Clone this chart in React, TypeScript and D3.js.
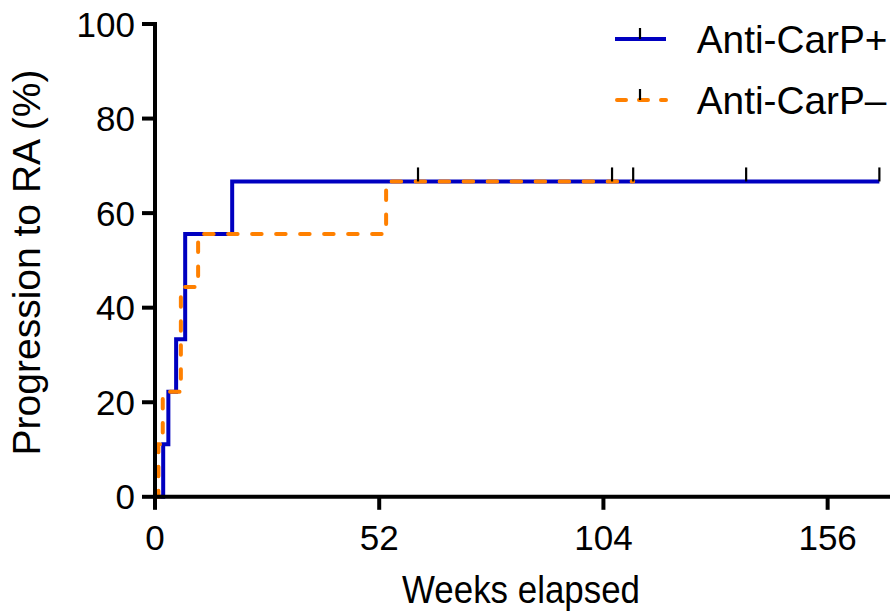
import React from "react";
import * as d3 from "d3";

const yTicks = [0, 20, 40, 60, 80, 100];
const xTicks = [0, 52, 104, 156];

// Kaplan-Meier steps: [weeks, cumulative % progressed]
const posWeeks = [0, 1.9, 3.1, 4.9, 7.0, 17.9, 168.0];
const posPct = [0, 11.1, 22.2, 33.3, 55.6, 66.7, 66.7];
const negWeeks = [0, 0.8, 1.8, 6.0, 10.0, 53.6, 110.9];
const negPct = [0, 11.1, 22.2, 44.4, 55.6, 66.7, 66.7];

// censored observations
const posCensorWeeks = [61.0, 137.1, 168.0];
const posCensorPct = [66.7, 66.7, 66.7];
const negCensorWeeks = [106.0, 110.9];
const negCensorPct = [66.7, 66.7];

const seriesNames = ["Anti-CarP+", "Anti-CarP\u2013"];
const xTitle = "Weeks elapsed";
const yTitle = "Progression to RA (%)";

const BLUE = "#0000c0";
const ORANGE = "#ff8000";
const FONT = "'Liberation Sans', Arial, sans-serif";

export default function App() {
  const W = 895, H = 611;
  const x = d3.scaleLinear().domain([0, 170]).range([155, 888]);
  const y = d3.scaleLinear().domain([0, 100]).range([496.8, 24]);

  const line = d3
    .line<[number, number]>()
    .x((d) => x(d[0]))
    .y((d) => y(d[1]))
    .curve(d3.curveStepAfter);

  const posData = posWeeks.map((w, i) => [w, posPct[i]] as [number, number]);
  const negData = negWeeks.map((w, i) => [w, negPct[i]] as [number, number]);

  const censors = [
    ...posCensorWeeks.map((w, i) => [w, posCensorPct[i]]),
    ...negCensorWeeks.map((w, i) => [w, negCensorPct[i]]),
  ];

  const dash = "9.5 14.5";

  return (
    <svg
      width={W}
      height={H}
      style={{ position: "absolute", left: 0, top: 0, background: "#fff" }}
      fontFamily={FONT}
    >
      {/* series */}
      <path d={line(posData) || ""} fill="none" stroke={BLUE} strokeWidth={4} />
      <path
        d={line(negData) || ""}
        fill="none"
        stroke={ORANGE}
        strokeWidth={4}
        strokeDasharray={dash}
        strokeLinecap="round"
      />
      {censors.map((c, i) => (
        <line
          key={i}
          x1={x(c[0])}
          x2={x(c[0])}
          y1={y(c[1]) - 14}
          y2={y(c[1])}
          stroke="#000"
          strokeWidth={2.2}
        />
      ))}

      {/* axes */}
      <line x1={x(0)} x2={x(0)} y1={y(100)} y2={y(0)} stroke="#000" strokeWidth={4} strokeLinecap="square" />
      <line x1={x(0)} x2={x(170)} y1={y(0)} y2={y(0)} stroke="#000" strokeWidth={4} strokeLinecap="square" />
      {yTicks.map((t) => (
        <g key={"y" + t}>
          <line x1={x(0) - 13} x2={x(0)} y1={y(t)} y2={y(t)} stroke="#000" strokeWidth={4} />
          <text x={135} y={y(t) + 12.5} fontSize={35} textAnchor="end" fill="#000">
            {t}
          </text>
        </g>
      ))}
      {xTicks.map((t) => (
        <g key={"x" + t}>
          <line x1={x(t)} x2={x(t)} y1={y(0)} y2={y(0) + 13} stroke="#000" strokeWidth={4} />
          <text x={x(t)} y={550} fontSize={35} textAnchor="middle" fill="#000">
            {t}
          </text>
        </g>
      ))}

      {/* titles */}
      <text
        x={521}
        y={602.7}
        fontSize={38.6}
        textAnchor="middle"
        textLength={238}
        lengthAdjust="spacingAndGlyphs"
        fill="#000"
      >
        {xTitle}
      </text>
      <text
        transform={`translate(40,262.5) rotate(-90)`}
        fontSize={39}
        textAnchor="middle"
        fill="#000"
      >
        {yTitle}
      </text>

      {/* legend */}
      <g>
        <line x1={615} x2={666} y1={39} y2={39} stroke={BLUE} strokeWidth={4} />
        <line x1={640} x2={640} y1={28} y2={39} stroke="#000" strokeWidth={2.2} />
        <text x={696.7} y={52.7} fontSize={38.8} fill="#000">
          {seriesNames[0]}
        </text>
        <line
          x1={617}
          x2={666}
          y1={100}
          y2={100}
          stroke={ORANGE}
          strokeWidth={4}
          strokeDasharray="9 13"
          strokeLinecap="round"
        />
        <line x1={640} x2={640} y1={89} y2={100} stroke="#000" strokeWidth={2.2} />
        <text x={696.7} y={113.7} fontSize={38.8} fill="#000">
          {seriesNames[1]}
        </text>
      </g>
    </svg>
  );
}
